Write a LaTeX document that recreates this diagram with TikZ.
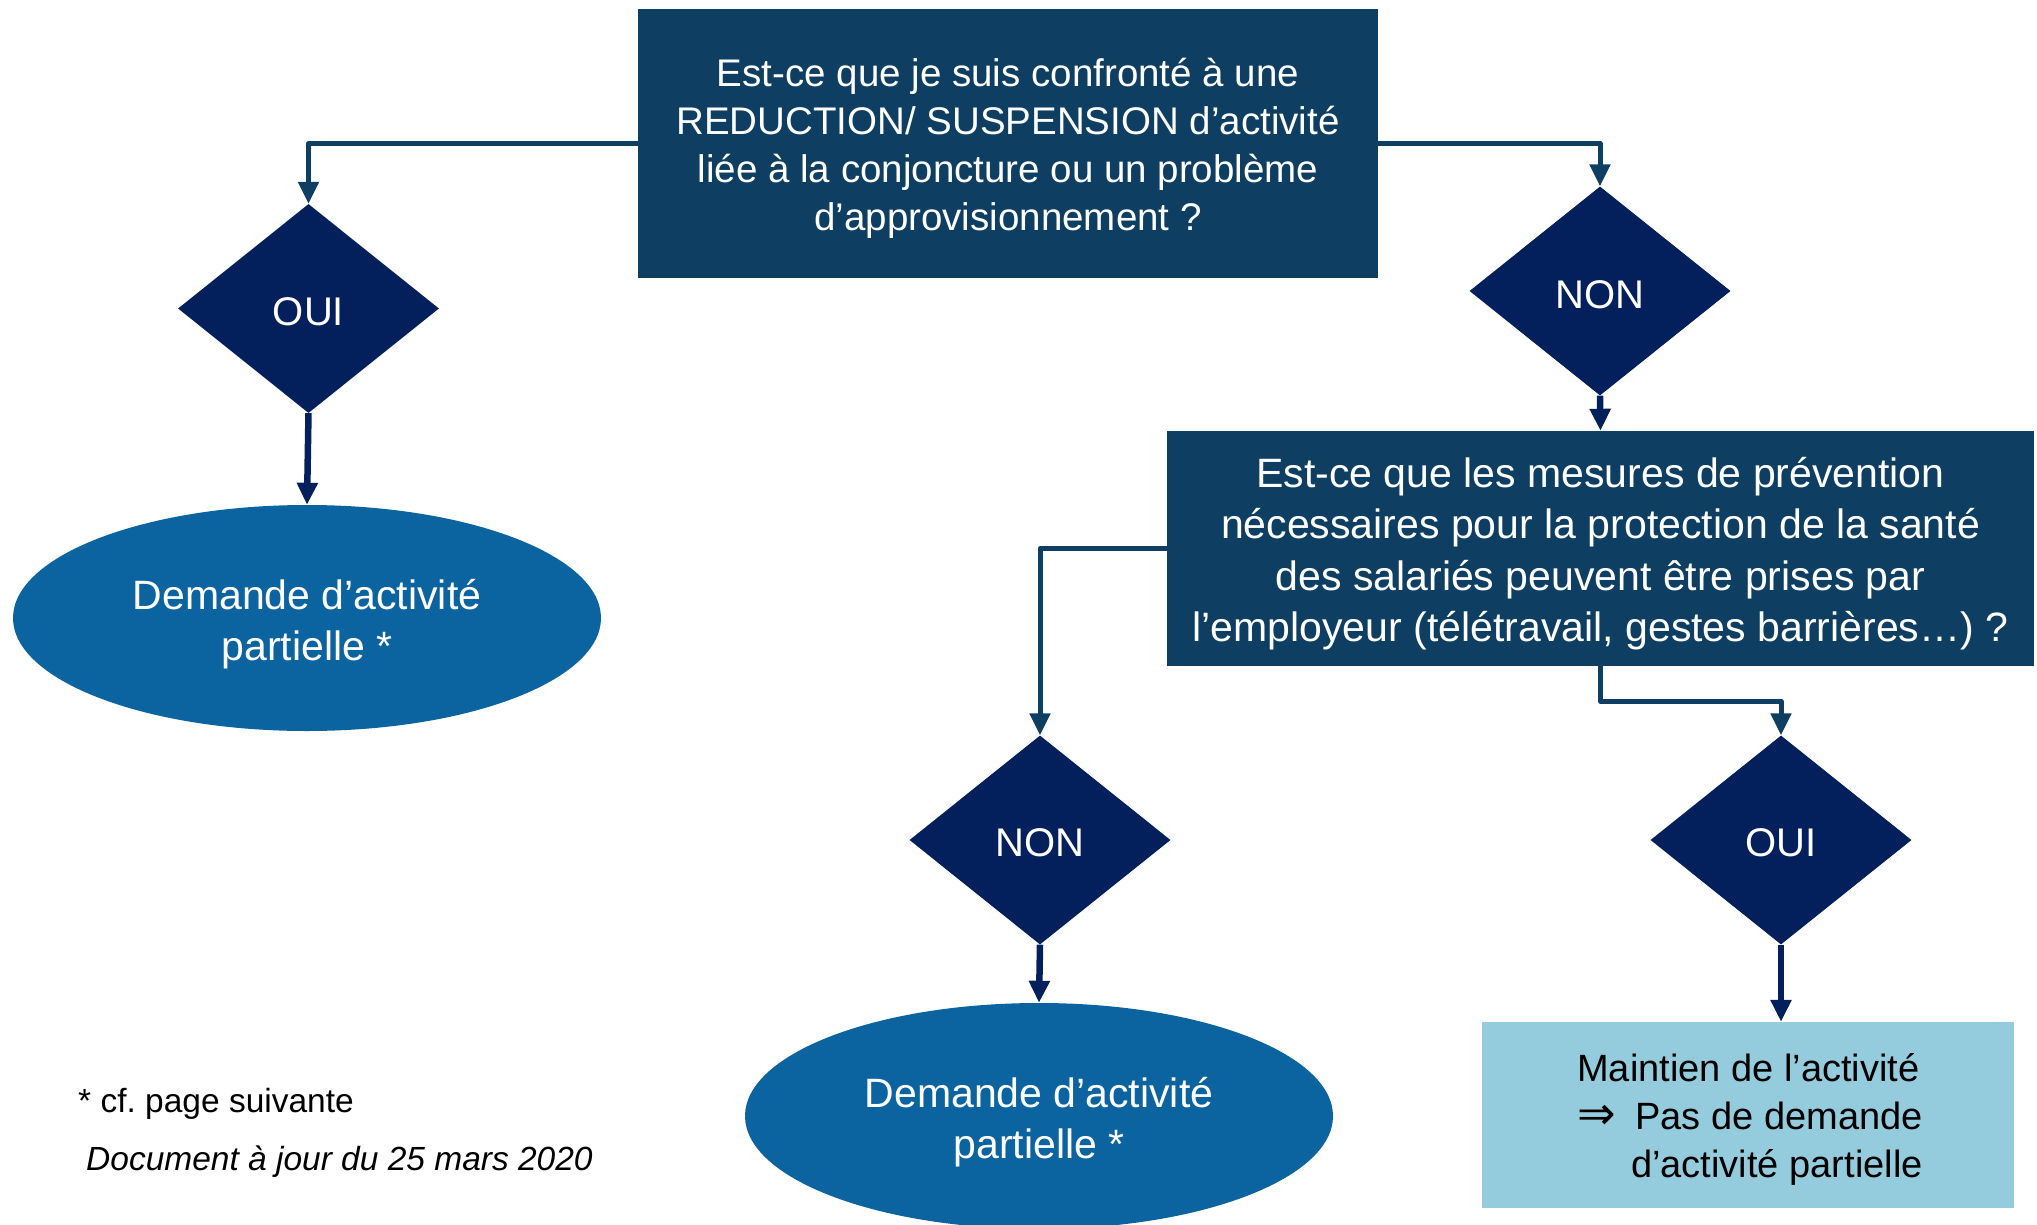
\documentclass[tikz,border=0pt]{standalone}
\usepackage{fontspec}
\setmainfont{Liberation Sans}
\newfontfamily\arrowfont{DejaVu Sans}
\usetikzlibrary{shapes.geometric,arrows.meta}
\definecolor{boxblue}{HTML}{0E3F62}
\definecolor{navyd}{HTML}{03205C}
\definecolor{ellblue}{HTML}{0B63A0}
\definecolor{lightblue}{HTML}{94CCDD}
\frenchspacing
\begin{document}
\begin{tikzpicture}[x=1pt,y=-1pt,
  qbox/.style={rectangle, fill=boxblue, inner sep=0pt},
  dia/.style={diamond, fill=navyd, minimum width=261pt, minimum height=209pt, inner sep=0pt},
  ell/.style={ellipse, fill=ellblue, minimum width=588pt, minimum height=226pt, inner sep=0pt},
  wtxt/.style={text=white, align=center, inner sep=0pt},
  conn/.style={draw=boxblue, line width=5pt, line join=round, -{Triangle[width=20pt,length=22pt]}},
  darr/.style={draw=navyd, line width=6.5pt, -{Triangle[width=20pt,length=22pt]}},
  note/.style={anchor=base west, inner sep=0pt, text=black}
]
\useasboundingbox (0,0) rectangle (2037,1225);

% shapes
\node[qbox, minimum width=740pt, minimum height=269pt] (q1) at (1008,143.5) {};
\node[dia] (oui1) at (308.5,308.5) {};
\node[ell] (e1) at (307,618) {};
\node[dia] (non1) at (1600,291) {};
\node[qbox, minimum width=867pt, minimum height=235pt] (q2) at (1600.5,548.5) {};
\node[dia] (non2) at (1040,840) {};
\node[dia] (oui2) at (1781,840) {};
\node[ell] (e2) at (1039,1116) {};
\node[rectangle, fill=lightblue, minimum width=532pt, minimum height=186pt, inner sep=0pt] (res) at (1748,1115) {};

% texts
\node[wtxt, font=\fontsize{38.5}{48}\selectfont] (q1t) at (1008,148.5)
  {Est-ce que je suis confronté à une\\REDUCTION/ SUSPENSION d’activité\\liée à la conjoncture ou un problème\\d’approvisionnement ?};
\node[wtxt, font=\fontsize{40}{48}\selectfont] (oui1t) at (308.5,311.5) {OUI};
\node[wtxt, font=\fontsize{41}{51}\selectfont] (e1t) at (307,624.5) {Demande d’activité\\partielle *};
\node[wtxt, font=\fontsize{40}{48}\selectfont] (non1t) at (1600,294.5) {NON};
\node[wtxt, font=\fontsize{41}{51.5}\selectfont] (q2t) at (1600.5,553.5)
  {Est-ce que les mesures de prévention\\nécessaires pour la protection de la santé\\des salariés peuvent être prises par\\l’employeur (télétravail, gestes barrières…) ?};
\node[wtxt, font=\fontsize{40}{48}\selectfont] (non2t) at (1040,843) {NON};
\node[wtxt, font=\fontsize{40}{48}\selectfont] (oui2t) at (1781,843) {OUI};
\node[wtxt, font=\fontsize{41}{51}\selectfont] (e2t) at (1039,1122.5) {Demande d’activité\\partielle *};
\node[text=black, align=left, inner sep=0pt, font=\fontsize{38}{48}\selectfont] (rest) at (1750,1119)
  {Maintien de l’activité\\\makebox[58pt][l]{\arrowfont\fontsize{46}{48}\selectfont ⇒}Pas de demande\\\hspace*{54pt}d’activité partielle};

% connectors
\draw[conn] (q1.west) -| (oui1.north);
\draw[conn] (q1.east) -| (non1.north);
\draw[darr] (non1.south) -- (q2.north);
\draw[conn] (q2.west) -| (non2.north);
\draw[conn] (q2.south) -- ++(0,35) -| (oui2.north);
\draw[darr] (oui1.south) -- (e1.north);
\draw[darr] (non2.south) -- (e2.north);
\draw[darr] (oui2.south) -- (oui2.south |- res.north);

\node[note, font=\fontsize{33.5}{40}\selectfont] (fn) at (78,1112.5) {* cf. page suivante};
\node[note, font=\fontsize{33.5}{40}\selectfont\itshape] (date) at (86,1170.5) {Document à jour du 25 mars 2020};
\end{tikzpicture}
\end{document}
